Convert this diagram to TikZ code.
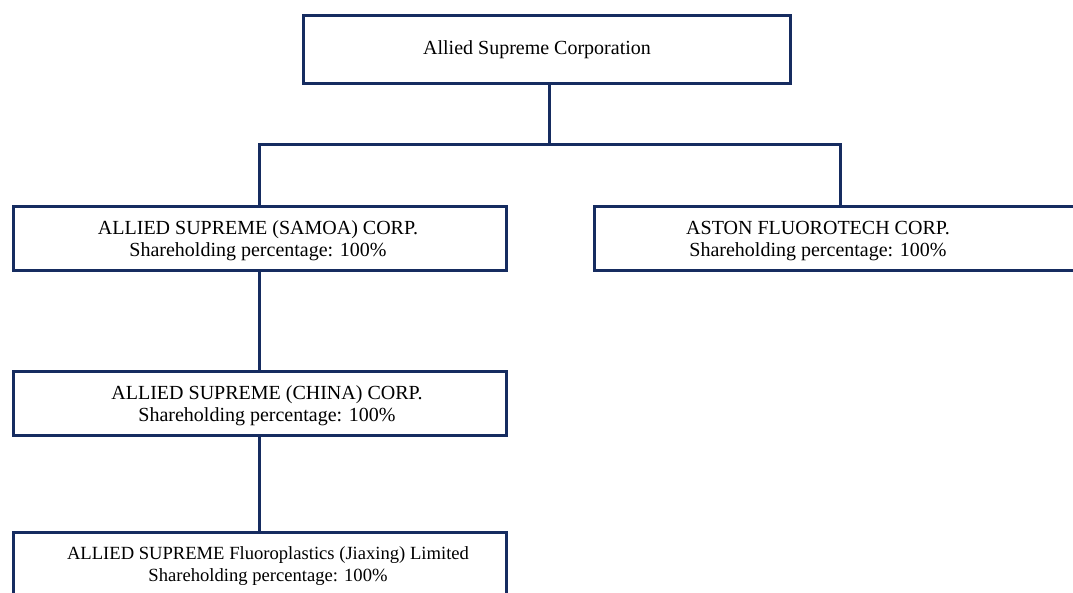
\documentclass[tikz,border=0pt]{standalone}
\usepackage{fontspec}
\setmainfont{Liberation Serif}
\definecolor{navy}{RGB}{22,44,96}
\begin{document}
\begin{tikzpicture}[x=1pt,y=-1pt,
  orgbox/.style={draw=navy,line width=3pt,fill=white,inner sep=0pt},
  link/.style={draw=navy,line width=3pt},
  lbl/.style={font=\fontsize{20}{22}\selectfont,align=center,inner sep=0pt}]
\useasboundingbox[clip] (0,0) rectangle (1073,592);
\fill[white] (0,0) rectangle (1073,592);
% boxes
\node[orgbox,minimum width=487pt,minimum height=68pt,anchor=north west] (top) at (302,14) {};
\node[orgbox,minimum width=493pt,minimum height=64pt,anchor=north west] (samoa) at (12,205) {};
\node[orgbox,minimum width=493pt,minimum height=64pt,anchor=north west] (aston) at (593,205) {};
\node[orgbox,minimum width=493pt,minimum height=64pt,anchor=north west] (china) at (12,370) {};
\node[orgbox,minimum width=493pt,minimum height=80pt,anchor=north west] (fluoro) at (12,531) {};
% texts
\node[lbl] (ttop) at (537,50) {Allied Supreme Corporation};
\node[lbl] (tsamoa) at (258,241) {ALLIED SUPREME (SAMOA) CORP.\\Shareholding percentage: 100\%};
\node[lbl] (taston) at (818,241) {ASTON FLUOROTECH CORP.\\Shareholding percentage: 100\%};
\node[lbl] (tchina) at (267,406) {ALLIED SUPREME (CHINA) CORP.\\Shareholding percentage: 100\%};
\node[lbl,font=\fontsize{18.6}{22}\selectfont] (tfluoro) at (268,566) {ALLIED SUPREME Fluoroplastics (Jiaxing) Limited\\Shareholding percentage: 100\%};
% connectors
\coordinate (bus) at (549,144);
\draw[link] (top.south -| bus) -- (bus);
\draw[link] (samoa.north -| 259,0) |- (bus) -| (aston.north -| 840,0);
\draw[link] (samoa.south -| 259,0) -- (china.north -| 259,0);
\draw[link] (china.south -| 259,0) -- (fluoro.north -| 259,0);
\end{tikzpicture}
\end{document}
